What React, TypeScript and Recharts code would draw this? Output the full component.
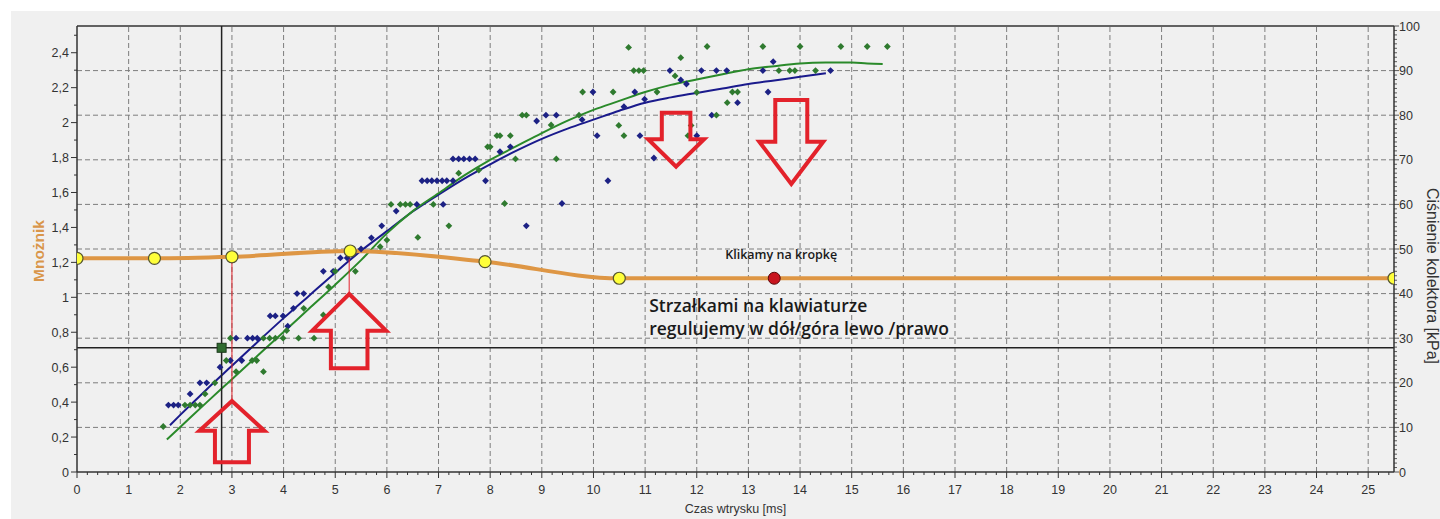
import {
  ComposedChart,
  Line,
  Scatter,
  XAxis,
  YAxis,
  ReferenceLine,
  ReferenceDot,
} from 'recharts';

// czas wtrysku [ms], ciśnienie kolektora [kPa]
const blueSamples: [number, number][] = [
  [1.77, 15], [1.87, 15], [1.96, 15], [2.19, 17.5], [2.38, 20], [2.51, 20],
  [2.77, 23.5], [2.97, 25], [3.08, 30], [3.19, 25], [3.3, 30], [3.4, 30], [3.49, 30],
  [3.74, 35], [3.84, 35], [3.99, 35], [4.08, 32.7], [4.19, 36.7], [4.26, 40], [4.39, 40],
  [4.77, 45], [4.96, 45], [5.1, 48], [5.23, 48], [5.5, 50], [5.7, 52.5], [5.9, 55.2],
  [6.18, 58.5], [6.58, 60], [7.09, 60], [6.68, 65.3], [6.78, 65.3], [6.87, 65.3],
  [6.97, 65.3], [7.07, 65.3], [7.16, 65.3], [7.28, 65.3], [7.28, 70.2], [7.39, 70.2],
  [7.49, 70.2], [7.6, 70.2], [7.71, 70.2], [7.91, 65.3], [8.19, 71.8], [8.39, 72.9],
  [8.7, 55.2], [8.9, 78.7], [9.08, 80], [9.28, 80], [9.39, 60.2], [9.78, 79], [9.99, 85.2],
  [10.07, 75.4], [10.28, 65.3], [10.59, 81.9], [10.8, 85.2], [10.9, 75.4], [10.99, 83.6],
  [11.17, 70.4], [11.48, 90], [11.69, 87.9], [11.8, 87], [12.0, 75.4], [12.09, 90],
  [12.29, 80], [12.38, 90], [12.58, 90], [12.79, 82.8], [13.28, 90], [13.38, 85.2],
  [13.48, 92], [14.59, 90],
];

const greenSamples: [number, number][] = [
  [1.67, 10.2], [2.09, 15], [2.19, 15], [2.29, 15], [2.38, 15], [2.48, 17.5], [2.67, 20],
  [2.89, 25], [2.97, 30], [3.08, 22.5], [3.39, 25], [3.48, 25], [3.61, 22.5], [3.61, 30],
  [3.73, 30], [3.84, 30], [3.99, 30], [4.06, 31.7], [4.29, 30], [4.39, 36.7], [4.59, 30],
  [4.77, 35.2], [4.87, 41.5], [5.0, 45], [5.39, 45], [5.87, 50.5], [6.0, 52], [6.08, 60],
  [6.26, 60], [6.36, 60], [6.45, 60], [6.6, 52.6], [6.9, 60], [7.2, 55.2], [7.39, 67],
  [7.78, 67.7], [7.95, 72.9], [8.0, 72.9], [8.13, 75.4], [8.19, 75.4], [8.28, 60.2],
  [8.39, 75.4], [8.49, 70.2], [8.62, 80], [8.7, 80], [9.18, 77.8], [9.28, 70.2], [9.72, 80],
  [9.79, 85.2], [10.38, 85.2], [10.49, 77.7], [10.59, 75.4], [10.68, 95.2], [10.78, 90],
  [10.88, 90], [10.97, 90], [11.23, 85.2], [11.58, 88.8], [11.69, 92.9], [11.83, 75.4],
  [11.89, 77.7], [12.0, 85.1], [12.2, 95.4], [12.38, 80], [12.59, 82.8], [12.69, 85.2],
  [12.79, 85.2], [13.28, 95.4], [13.59, 90], [13.8, 90], [13.9, 90], [14.0, 95.4],
  [14.3, 90], [14.79, 95.4], [15.3, 95.4], [15.69, 95.4],
];

// krzywe dopasowania
const blueFit: [number, number][] = [
  [1.8, 10.5], [2, 12.8], [2.5, 18.4], [3, 23.8], [3.5, 29.2], [4, 34.5], [4.5, 39.6],
  [5, 44.7], [5.5, 49.6], [6, 54], [6.5, 58.4], [7, 62.2], [7.5, 65.8], [8, 69], [8.5, 72],
  [9, 74.7], [9.5, 77], [10, 79], [10.5, 81], [11, 82.8], [11.5, 84], [12, 85], [12.5, 86],
  [13, 87], [13.5, 87.8], [14, 88.6], [14.5, 89.4],
];

const greenFit: [number, number][] = [
  [1.74, 7.3], [2, 10.1], [2.5, 15.5], [3, 20.8], [3.5, 26.1], [4, 31.4], [4.5, 36.7],
  [5, 42], [5.5, 47.5], [6, 53.5], [6.5, 58.5], [7, 62.5], [7.5, 66.5], [8, 70], [8.5, 73],
  [9, 76], [9.5, 78.8], [10, 81.2], [10.5, 83.2], [11, 85.2], [11.5, 86.8], [12, 88],
  [12.5, 89.2], [13, 90.3], [13.5, 91], [14, 91.6], [14.5, 91.8], [15, 91.8], [15.3, 91.6],
  [15.6, 91.5],
];

// punkty mnożnika (lewa oś)
const multiplierPoints: [number, number][] = [
  [0, 1.223], [1.5, 1.223], [3, 1.232], [5.29, 1.265], [7.9, 1.204], [10.5, 1.109],
  [13.5, 1.109], [25.5, 1.109],
];
const selectedX = 13.5;

// kursor
const cursorT = 2.8;
const cursorM = 0.711;

const xMajorTicks = [0, 1, 2, 3, 4, 5, 6, 7, 8, 9, 10, 11, 12, 13, 14, 15, 16, 17, 18, 19, 20, 21, 22, 23, 24, 25];
const leftMajorTicks = [0, 0.2, 0.4, 0.6, 0.8, 1, 1.2, 1.4, 1.6, 1.8, 2, 2.2, 2.4];
const rightMajorTicks = [0, 10, 20, 30, 40, 50, 60, 70, 80, 90, 100];

const xTicks = Array.from({ length: 128 }, (_, i) => i / 5);
const leftTicks = Array.from({ length: 26 }, (_, i) => i / 10);
const rightTicks = Array.from({ length: 101 }, (_, i) => i);

const toP = (arr: [number, number][]) => arr.map(([t, p]) => ({ t, p }));
const blueData = toP(blueSamples);
const greenData = toP(greenSamples);
const blueFitData = toP(blueFit);
const greenFitData = toP(greenFit);
const multiplierData = multiplierPoints.map(([t, m]) => ({ t, m }));

const FONT = '"Liberation Sans", Arial, sans-serif';
const NOTE_FONT = '"Open Sans", sans-serif';
const AXIS = '#333';
const GRID = '#7d7d7d';
const ARROW = '#E3222B';

const near = (a: number, list: number[]) => list.some((b) => Math.abs(a - b) < 1e-6);

function XTick({ x, y, payload }: any) {
  const v = payload.value;
  const major = near(v, xMajorTicks);
  return (
    <g>
      <line x1={x} x2={x} y1={y} y2={y + (major ? 6 : 3)} stroke={AXIS} />
      {major && (
        <text x={x} y={y + 22} textAnchor="middle" fontSize={12.5} fill="#333" fontFamily={FONT}>
          {v}
        </text>
      )}
    </g>
  );
}

function LeftTick({ x, y, payload }: any) {
  const v = payload.value;
  const major = near(v, leftMajorTicks);
  return (
    <g>
      <line x1={x - (major ? 6 : 3)} x2={x} y1={y} y2={y} stroke={AXIS} />
      {major && (
        <text x={x - 8} y={y + 4.5} textAnchor="end" fontSize={12.5} fill="#333" fontFamily={FONT}>
          {String(Number(v.toFixed(1))).replace('.', ',')}
        </text>
      )}
    </g>
  );
}

function RightTick({ x, y, payload }: any) {
  const v = payload.value;
  const major = near(v, rightMajorTicks);
  return (
    <g>
      <line x1={x} x2={x + (major ? 5 : 3)} y1={y} y2={y} stroke={AXIS} strokeWidth={0.8} />
      {major && (
        <text x={x + 5} y={y + 4.5} textAnchor="start" fontSize={12.5} fill="#333" fontFamily={FONT}>
          {v}
        </text>
      )}
    </g>
  );
}

const diamond = (color: string) => (props: any) => {
  const { cx, cy } = props;
  const r = 3.4;
  return (
    <polygon
      points={`${cx},${cy - r} ${cx + r},${cy} ${cx},${cy + r} ${cx - r},${cy}`}
      fill={color}
    />
  );
};

const renderMultiplierDot = (props: any) => {
  const { cx, cy, index, payload } = props;
  if (payload.t === selectedX) {
    return (
      <g key={`md${index}`}>
        <circle cx={cx} cy={cy} r={6} fill="#C8141E" stroke="#5a0a0a" strokeWidth={1} />
        <text
          x={cx + 7}
          y={cy - 19}
          textAnchor="middle"
          fontSize={12.5}
          fontWeight={600}
          fill="#1a1a1a"
          fontFamily={NOTE_FONT}
        >
          Klikamy na kropkę
        </text>
      </g>
    );
  }
  return (
    <circle key={`md${index}`} cx={cx} cy={cy} r={6} fill="#FFFF3A" stroke="#555530" strokeWidth={1.2} />
  );
};

// strzałka: grot w punkcie (cx, cy)
const arrowShape =
  (dir: 'up' | 'down', headHalf: number, headLen: number, shaftHalf: number, length: number) =>
  (props: any) => {
    const { cx, cy } = props;
    const s = dir === 'up' ? 1 : -1;
    const pts = [
      [cx, cy],
      [cx + headHalf, cy + s * headLen],
      [cx + shaftHalf, cy + s * headLen],
      [cx + shaftHalf, cy + s * length],
      [cx - shaftHalf, cy + s * length],
      [cx - shaftHalf, cy + s * headLen],
      [cx - headHalf, cy + s * headLen],
    ];
    return (
      <polygon
        points={pts.map((p) => p.join(',')).join(' ')}
        fill="none"
        stroke={ARROW}
        strokeWidth={4}
        strokeLinejoin="miter"
      />
    );
  };

const cursorSquare = (props: any) => {
  const { cx, cy } = props;
  return <rect x={cx - 4.5} y={cy - 4.5} width={9} height={9} fill="#2F6B2F" stroke="#1A3A1A" />;
};

const hintText = (props: any) => {
  const { cx, cy } = props;
  return (
    <g fontSize={17.5} fontWeight={600} fill="#1a1a1a" fontFamily={NOTE_FONT}>
      <text x={cx} y={cy + 6}>Strzałkami na klawiaturze</text>
      <text x={cx} y={cy + 29}>regulujemy w dół/góra lewo /prawo</text>
    </g>
  );
};

const leftLabel = ({ viewBox }: any) => {
  const cx = 38;
  const cy = viewBox.y + viewBox.height / 2 + 2;
  return (
    <text
      x={cx}
      y={cy}
      transform={`rotate(-90 ${cx} ${cy})`}
      textAnchor="middle"
      dominantBaseline="central"
      fontSize={15.5}
      fontWeight={700}
      fill="#D9964A"
      fontFamily={FONT}
    >
      Mnożnik
    </text>
  );
};

const rightLabel = ({ viewBox }: any) => {
  const cx = 1427;
  const cy = viewBox.y + viewBox.height / 2 + 27;
  return (
    <text
      x={cx}
      y={cy}
      transform={`rotate(90 ${cx} ${cy})`}
      textAnchor="middle"
      fontSize={16}
      fill="#333"
      fontFamily={FONT}
    >
      Ciśnienie kolektora [kPa]
    </text>
  );
};

const gridX = xMajorTicks.filter((v) => v > 0);
const gridY = rightMajorTicks.filter((v) => v > 0 && v < 100);

export default function App() {
  return (
    <div style={{ position: 'absolute', left: 0, top: 0, width: 1440, height: 519, background: '#fff' }}>
      <div style={{ position: 'absolute', left: 11, top: 11, width: 1429, height: 508, background: '#F0F0F0' }} />
      <div style={{ position: 'absolute', left: 0, top: 0 }}>
        <ComposedChart
          width={1440}
          height={519}
          margin={{ top: 26, right: 0, bottom: 0, left: 0 }}
          style={{ fontFamily: FONT }}
        >
          <XAxis
            dataKey="t"
            type="number"
            domain={[0, 25.5]}
            ticks={xTicks}
            interval={0}
            tick={<XTick />}
            tickSize={0}
            tickMargin={0}
            tickLine={false}
            axisLine={{ stroke: AXIS, strokeWidth: 1.5 }}
            height={47}
            allowDataOverflow
            label={{
              value: 'Czas wtrysku [ms]',
              position: 'insideBottom',
              offset: 6,
              fontSize: 12.5,
              fill: '#333',
            }}
          />
          <YAxis
            yAxisId="m"
            dataKey="m"
            type="number"
            orientation="left"
            domain={[0, 2.553]}
            ticks={leftTicks}
            interval={0}
            tick={<LeftTick />}
            tickSize={0}
            tickMargin={0}
            tickLine={false}
            axisLine={{ stroke: AXIS, strokeWidth: 1.5 }}
            width={77}
            allowDataOverflow
            label={leftLabel}
          />
          <YAxis
            yAxisId="p"
            dataKey="p"
            type="number"
            orientation="right"
            domain={[0, 100]}
            ticks={rightTicks}
            interval={0}
            tick={<RightTick />}
            tickSize={0}
            tickMargin={0}
            tickLine={false}
            axisLine={{ stroke: AXIS, strokeWidth: 1.5 }}
            width={46}
            allowDataOverflow
            label={rightLabel}
          />

          {gridX.map((v) => (
            <ReferenceLine key={`gx${v}`} x={v} yAxisId="p" stroke={GRID} strokeDasharray="5 3" />
          ))}
          {gridY.map((v) => (
            <ReferenceLine key={`gy${v}`} y={v} yAxisId="p" stroke={GRID} strokeDasharray="5 3" />
          ))}
          <ReferenceLine y={100} yAxisId="p" stroke={AXIS} strokeWidth={1.5} />

          <Scatter data={blueData} dataKey="p" yAxisId="p" shape={diamond('#1C2184')} isAnimationActive={false} />
          <Scatter data={greenData} dataKey="p" yAxisId="p" shape={diamond('#2F7A2F')} isAnimationActive={false} />

          <Line
            data={blueFitData}
            dataKey="p"
            yAxisId="p"
            type="monotone"
            stroke="#1A1A8C"
            strokeWidth={2}
            dot={false}
            isAnimationActive={false}
          />
          <Line
            data={greenFitData}
            dataKey="p"
            yAxisId="p"
            type="monotone"
            stroke="#2A8A2A"
            strokeWidth={2}
            dot={false}
            isAnimationActive={false}
          />

          <ReferenceLine x={cursorT} yAxisId="m" stroke="#222" strokeWidth={1.5} />
          <ReferenceLine y={cursorM} yAxisId="m" stroke="#222" strokeWidth={1.5} />

          <ReferenceLine
            yAxisId="m"
            segment={[{ x: 3, y: 1.232 }, { x: 3, y: 0.406 }]}
            stroke={ARROW}
            strokeWidth={1}
          />
          <ReferenceLine
            yAxisId="m"
            segment={[{ x: 5.27, y: 1.265 }, { x: 5.27, y: 1.019 }]}
            stroke={ARROW}
            strokeWidth={1}
          />

          <Line
            data={multiplierData}
            dataKey="m"
            yAxisId="m"
            type="monotone"
            stroke="#DE9644"
            strokeWidth={4}
            dot={renderMultiplierDot}
            isAnimationActive={false}
          />

          <ReferenceDot x={cursorT} y={cursorM} yAxisId="m" shape={cursorSquare} />

          <ReferenceDot x={3} y={0.406} yAxisId="m" shape={arrowShape('up', 32.5, 29.7, 17, 61.3)} />
          <ReferenceDot x={5.27} y={1.019} yAxisId="m" shape={arrowShape('up', 37, 36.7, 18.3, 74.3)} />
          <ReferenceDot x={11.6} y={1.748} yAxisId="m" shape={arrowShape('down', 28, 27.4, 14.3, 54)} />
          <ReferenceDot x={13.83} y={1.649} yAxisId="m" shape={arrowShape('down', 32, 42.3, 16, 84)} />

          <ReferenceDot x={11.08} y={0.95} yAxisId="m" shape={hintText} />
        </ComposedChart>
      </div>
    </div>
  );
}
